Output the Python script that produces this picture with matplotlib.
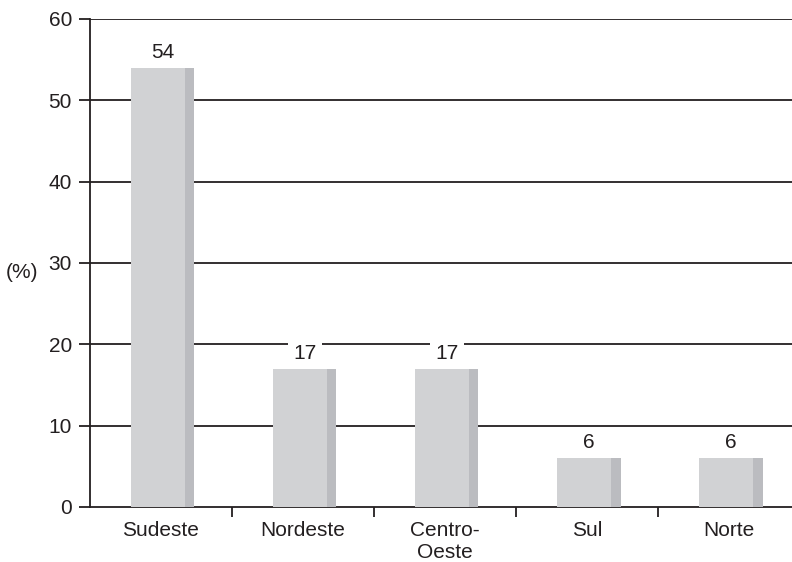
import matplotlib.pyplot as plt

plt.rcParams['font.family'] = ['Liberation Sans', 'DejaVu Sans']

# data
regions = ["Sudeste", "Nordeste", "Centro-\nOeste", "Sul", "Norte"]
shares = [54, 17, 17, 6, 6]
y_ticks = [0, 10, 20, 30, 40, 50, 60]

ink = "#231f20"
face = "#d1d2d4"
side = "#bbbcc0"

fig = plt.figure(figsize=(7.92, 5.62), dpi=100)
ax = fig.add_axes([0.1136, 0.0979, 0.8864, 0.8683])

total_w = 0.444
side_w = 0.064
xs = list(range(len(regions)))
lefts = [x - total_w / 2 + 0.014 for x in xs]

# front face plus a darker strip on the right for the 3d look
ax.bar(lefts, shares, width=total_w - side_w, align="edge", color=face, zorder=3)
ax.bar([l + total_w - side_w for l in lefts], shares, width=side_w, align="edge",
       color=side, zorder=3)

for x, v in zip(xs, shares):
    ax.text(x + 0.014, v + 1.9, str(v), ha="center", va="center", fontsize=15, color=ink,
            zorder=4, bbox=dict(facecolor="white", edgecolor="none", pad=4))

ax.set_ylim(0, 60)
ax.set_xlim(-0.5, 4.5 - 8 / 142)
ax.set_yticks(y_ticks)
for t in y_ticks[1:]:
    ax.axhline(t, color=ink, lw=1.3, zorder=1)

ax.set_xticks(xs)
ax.set_xticklabels(regions, fontsize=15, color=ink)
ax.set_xticks([x + 0.5 for x in xs[:-1]], minor=True)
ax.tick_params(axis="x", which="major", length=0, pad=10)
ax.tick_params(axis="x", which="minor", length=7, width=1.3, color=ink, direction="out")
ax.tick_params(axis="y", length=8, width=1.3, color=ink, labelsize=15, labelcolor=ink, pad=5)

for s in ["top", "right"]:
    ax.spines[s].set_visible(False)
for s in ["left", "bottom"]:
    ax.spines[s].set_color(ink)
    ax.spines[s].set_linewidth(1.3)

ax.set_ylabel("(%)", rotation=0, fontsize=15, color=ink, va="center", ha="center")
ax.yaxis.set_label_coords(-0.097, 0.48)

fig.savefig("out.png", dpi=100)
